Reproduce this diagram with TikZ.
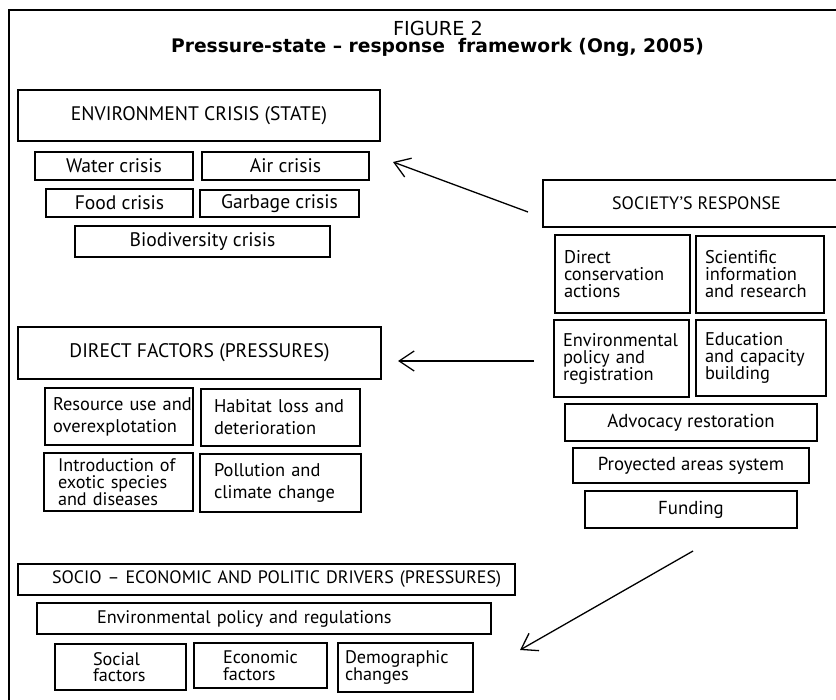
\documentclass[tikz,border=0pt]{standalone}
\usepackage{fontspec}
\setmainfont{PT Sans}
\newfontfamily\titlefont{DejaVu Sans}
\usetikzlibrary{arrows.meta}
\begin{document}
\begin{tikzpicture}[x=1pt,y=-1pt,
  box/.style={draw, line width=1.4pt, inner sep=0pt, outer sep=0pt, align=center,
    font=\fontsize{19.6}{19.6}\selectfont},
  rbox/.style={box, font=\fontsize{18.8}{18.8}\selectfont},
  lbox/.style={box, align=left, inner xsep=9pt, font=\fontsize{18.4}{17}\selectfont},
  pbox/.style={box, align=left, font=\fontsize{18.4}{22}\selectfont},
  cbox/.style={box, font=\fontsize{18.2}{16.5}\selectfont},
  head/.style={box, font=\fontsize{19.6}{19.6}\selectfont},
  arr/.style={line width=1.3pt, -{Straight Barb[length=15pt,width=20pt,line width=1.3pt]}},
  ttl/.style={inner sep=0pt, anchor=base}
]
\useasboundingbox (0,0) rectangle (836,700);
\clip (0,0) rectangle (836,700);
\fill[white] (0,0) rectangle (836,700);
\draw[line width=1.8pt] (9,10) rectangle (860,720);

\node[ttl, font=\titlefont\fontsize{19.3}{19.3}\selectfont] (fig) at (438,36) {FIGURE 2};
\node[ttl, font=\titlefont\bfseries\fontsize{18.7}{18.7}\selectfont] (title) at (437.5,53) {Pressure-state – response\ \ framework (Ong, 2005)};

% state
\node[head, minimum width=362, minimum height=51] (env) at (199,115.5) {ENVIRONMENT CRISIS (STATE)};
\node[box, minimum width=158, minimum height=28] (water) at (114,166) {Water crisis};
\node[box, minimum width=167, minimum height=28] (air) at (285.5,166) {Air crisis};
\node[box, minimum width=147, minimum height=28] (food) at (119.5,203) {Food crisis};
\node[box, minimum width=159, minimum height=27] (garb) at (279.5,203.5) {Garbage crisis};
\node[box, minimum width=255, minimum height=31] (bio) at (202.5,241.5) {Biodiversity crisis};

% response
\node[head, font=\fontsize{18}{18}\selectfont, minimum width=307, minimum height=47] (soc) at (696.5,203.5) {SOCIETY’S RESPONSE};
\node[lbox, text width=117, minimum height=78] (dir) at (622.5,274) {Direct\\conservation\\actions};
\node[lbox, text width=110, minimum height=77] (sci) at (760,274.5) {Scientific\\information\\\mbox{and research}};
\node[lbox, text width=117, minimum height=77] (pol) at (621.5,358.5) {Environmental\\policy and\\registration};
\node[lbox, text width=112, minimum height=76] (edu) at (761,358) {Education\\\mbox{and capacity}\\building};
\node[rbox, minimum width=252, minimum height=37] (adv) at (691,422.5) {Advocacy restoration};
\node[rbox, minimum width=236, minimum height=35] (pro) at (691,465.5) {Proyected areas system};
\node[rbox, minimum width=212, minimum height=37] (fund) at (691,509.5) {Funding};

% pressures
\node[head, minimum width=363, minimum height=52] (dfac) at (199.5,353) {DIRECT FACTORS (PRESSURES)};
\node[pbox, inner xsep=8pt, text width=132, minimum height=57] (res) at (119,416.5) {\mbox{Resource use and}\\overexplotation};
\node[pbox, inner xsep=13pt, text width=133, minimum height=57] (hab) at (280.5,417.5) {\mbox{Habitat loss and}\\deterioration};
\node[lbox, inner xsep=14pt, text width=121, minimum height=58, font=\fontsize{18.2}{17}\selectfont] (intro) at (118.5,482) {\mbox{Introduction of}\\\mbox{exotic species}\\\mbox{and diseases}};
\node[pbox, inner xsep=14pt, text width=133, minimum height=58] (poll) at (280.5,483) {Pollution and\\\mbox{climate change}};

% drivers
\node[cbox, align=left, inner xsep=34pt, text width=429, minimum height=31, font=\fontsize{18}{18}\selectfont] (drv) at (266.5,579.5) {\mbox{SOCIO – ECONOMIC AND POLITIC DRIVERS (PRESSURES)}};
\node[cbox, align=left, inner xsep=60pt, text width=334, minimum height=31] (reg) at (264,618.5) {\mbox{Environmental policy and regulations}};
\node[cbox, align=left, inner xsep=38pt, text width=55, minimum height=46] (socf) at (120.5,667) {\mbox{Social}\\\mbox{factors}};
\node[cbox, align=left, inner xsep=29pt, text width=75, minimum height=45] (eco) at (260.5,665.5) {\mbox{Economic}\\\mbox{factors}};
\node[cbox, align=left, inner xsep=7pt, text width=121, minimum height=49] (dem) at (405.5,667.5) {\mbox{Demographic}\\\mbox{changes}};

% arrows
\coordinate (a1s) at (528,212);
\coordinate (a1e) at (393,162);
\coordinate (a2s) at (534,361);
\coordinate (a2e) at (398,361);
\coordinate (a3s) at (693,551);
\coordinate (a3e) at (520,650);
\draw[arr] (a1s) -- (a1e);
\draw[arr] (a2s) -- (a2e);
\draw[arr] (a3s) -- (a3e);
\end{tikzpicture}
\end{document}
